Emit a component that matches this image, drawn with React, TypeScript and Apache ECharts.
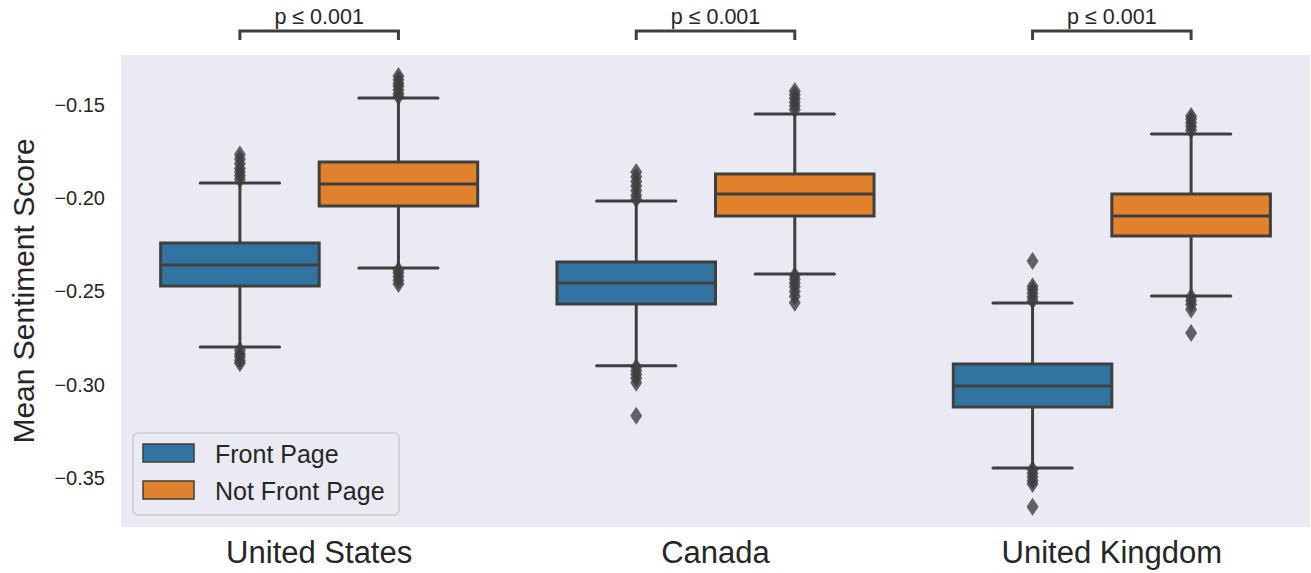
import React, { useEffect, useRef } from "react";
import * as echarts from "echarts";

const categories = ["United States", "Canada", "United Kingdom"];
const hueNames = ["Front Page", "Not Front Page"];
const hueColors = ["#3274A1", "#E1812C"];
const hueOffsets = [-0.2, 0.2];
const yTicks = [-0.35, -0.3, -0.25, -0.2, -0.15];
const pLabel = "p \u2264 0.001";

// [lower whisker, Q1, median, Q3, upper whisker] per country
const frontPageBoxes = [
  [-0.2798, -0.2471, -0.2358, -0.224, -0.1918],
  [-0.2899, -0.2567, -0.2454, -0.2342, -0.2015],
  [-0.3446, -0.3119, -0.3007, -0.2889, -0.2562],
];
const notFrontPageBoxes = [
  [-0.2374, -0.2042, -0.1924, -0.1806, -0.1462],
  [-0.2406, -0.2095, -0.1977, -0.187, -0.1548],
  [-0.2524, -0.2202, -0.2095, -0.1977, -0.1656],
];

// outliers per country
const frontPageOutliers = [
  [-0.1765, -0.179, -0.1815, -0.184, -0.186, -0.188, -0.19, -0.2815, -0.2835, -0.285, -0.287, -0.2885],
  [-0.186, -0.1885, -0.191, -0.1935, -0.196, -0.1985, -0.2005, -0.2905, -0.2925, -0.2945, -0.2965, -0.299, -0.3167],
  [-0.2336, -0.2472, -0.249, -0.251, -0.253, -0.255, -0.3455, -0.3475, -0.3495, -0.3515, -0.3532, -0.3655],
];
const notFrontPageOutliers = [
  [-0.1345, -0.1365, -0.1385, -0.14, -0.142, -0.144, -0.1455, -0.2385, -0.24, -0.242, -0.244, -0.246],
  [-0.1425, -0.1445, -0.1465, -0.1485, -0.1505, -0.1525, -0.2415, -0.2435, -0.2455, -0.2475, -0.25, -0.2525, -0.256],
  [-0.1559, -0.1575, -0.1595, -0.1615, -0.1635, -0.253, -0.255, -0.257, -0.2597, -0.2723],
];

const boxesByHue = [frontPageBoxes, notFrontPageBoxes];
const outliersByHue = [frontPageOutliers, notFrontPageOutliers];

const FONT = "'Liberation Sans', Arial, Helvetica, sans-serif";
const LINE = "#3f3f3f";
const LW = 3;
const HALF = 0.2;

export default function App() {
  const ref = useRef<HTMLDivElement>(null);
  useEffect(() => {
    document.body.style.margin = "0";
    if (!ref.current) return;
    const chart = echarts.init(ref.current, undefined, { renderer: "svg" });

    const boxSeries = boxesByHue.map((boxes, h) => ({
      name: hueNames[h],
      type: "custom",
      xAxisIndex: 1,
      yAxisIndex: 0,
      z: 2,
      itemStyle: { color: hueColors[h] },
      encode: { x: 0, y: [1, 2, 3, 4, 5] },
      data: boxes.map((b, i) => [i + hueOffsets[h], ...b]),
      renderItem: (params: any, api: any) => {
        const x = api.value(0);
        const lo = api.value(1), q1 = api.value(2), med = api.value(3), q3 = api.value(4), hi = api.value(5);
        const tl = api.coord([x - HALF, q3]);
        const br = api.coord([x + HALF, q1]);
        const mL = api.coord([x - HALF, med]);
        const mR = api.coord([x + HALF, med]);
        const cHi = api.coord([x, hi]);
        const cLo = api.coord([x, lo]);
        const cQ3 = api.coord([x, q3]);
        const cQ1 = api.coord([x, q1]);
        const capL = api.coord([x - HALF / 2, hi]);
        const capR = api.coord([x + HALF / 2, hi]);
        const capL2 = api.coord([x - HALF / 2, lo]);
        const capR2 = api.coord([x + HALF / 2, lo]);
        const ls = { stroke: LINE, lineWidth: LW, lineCap: "round" };
        return {
          type: "group",
          children: [
            { type: "line", shape: { x1: cQ3[0], y1: cQ3[1], x2: cHi[0], y2: cHi[1] }, style: ls },
            { type: "line", shape: { x1: cQ1[0], y1: cQ1[1], x2: cLo[0], y2: cLo[1] }, style: ls },
            { type: "line", shape: { x1: capL[0], y1: capL[1], x2: capR[0], y2: capR[1] }, style: ls },
            { type: "line", shape: { x1: capL2[0], y1: capL2[1], x2: capR2[0], y2: capR2[1] }, style: ls },
            {
              type: "rect",
              shape: { x: tl[0], y: tl[1], width: br[0] - tl[0], height: br[1] - tl[1] },
              style: { fill: hueColors[h], stroke: LINE, lineWidth: LW },
            },
            { type: "line", shape: { x1: mL[0], y1: mL[1], x2: mR[0], y2: mR[1] }, style: { stroke: LINE, lineWidth: LW } },
          ],
        };
      },
    }));

    const outlierSeries = outliersByHue.map((outs, h) => ({
      name: hueNames[h] + " outliers",
      type: "scatter",
      xAxisIndex: 1,
      yAxisIndex: 0,
      z: 3,
      symbol: "diamond",
      symbolSize: [12, 18],
      itemStyle: { color: LINE },
      data: outs.flatMap((arr, i) => arr.map((v) => [i + hueOffsets[h], v])),
    }));

    chart.setOption({
      animation: false,
      textStyle: { fontFamily: FONT },
      grid: { left: 120, top: 55, width: 1190, height: 472, show: true, backgroundColor: "#EAEAF2", borderWidth: 0 },
      xAxis: [
        {
          type: "category",
          data: categories,
          axisLine: { show: false },
          axisTick: { show: false },
          axisLabel: { fontSize: 31, color: "#262626", margin: 10, fontFamily: FONT },
        },
        { type: "value", min: -0.5, max: 2.5, show: false },
      ],
      yAxis: {
        type: "value",
        min: -0.3763,
        max: -0.1232,
        name: "Mean Sentiment Score",
        nameLocation: "middle",
        nameGap: 83,
        nameTextStyle: { fontSize: 30, color: "#262626", fontFamily: FONT },
        axisLine: { show: false },
        axisTick: { show: false, customValues: yTicks },
        splitLine: { show: false },
        axisLabel: {
          customValues: yTicks,
          fontSize: 20,
          color: "#262626",
          margin: 16,
          fontFamily: FONT,
          formatter: (v: number) => v.toFixed(2).replace("-", "\u2212"),
        },
      },
      series: [...boxSeries, ...outlierSeries],
    });

    // significance brackets and legend
    const graphics: any[] = [];
    categories.forEach((_, i) => {
      const xa = chart.convertToPixel({ xAxisIndex: 1 }, i + hueOffsets[0]) as number;
      const xb = chart.convertToPixel({ xAxisIndex: 1 }, i + hueOffsets[1]) as number;
      graphics.push({
        type: "polyline",
        shape: { points: [[xa, 40], [xa, 31], [xb, 31], [xb, 40]] },
        style: { stroke: LINE, lineWidth: 3, fill: "none" },
      });
      graphics.push({
        type: "text",
        x: (xa + xb) / 2,
        y: 17,
        style: { text: pLabel, fontSize: 21.5, fill: "#262626", align: "center", verticalAlign: "middle", fontFamily: FONT },
      });
    });
    graphics.push({
      type: "rect",
      shape: { x: 133, y: 433, width: 266, height: 82, r: 5 },
      style: { fill: "rgba(234,234,242,0.8)", stroke: "#cccccc", lineWidth: 1.5 },
      z: 10,
    });
    hueNames.forEach((n, h) => {
      graphics.push({
        type: "rect",
        shape: { x: 143, y: 444 + h * 37, width: 51, height: 18 },
        style: { fill: hueColors[h], stroke: LINE, lineWidth: 1.5 },
        z: 11,
      });
      graphics.push({
        type: "text",
        x: 215,
        y: 454 + h * 37,
        style: { text: n, fontSize: 25, fill: "#262626", align: "left", verticalAlign: "middle", fontFamily: FONT },
        z: 11,
      });
    });
    chart.setOption({ graphic: graphics });

    return () => chart.dispose();
  }, []);
  return <div ref={ref} style={{ width: 1311, height: 573 }} />;
}
